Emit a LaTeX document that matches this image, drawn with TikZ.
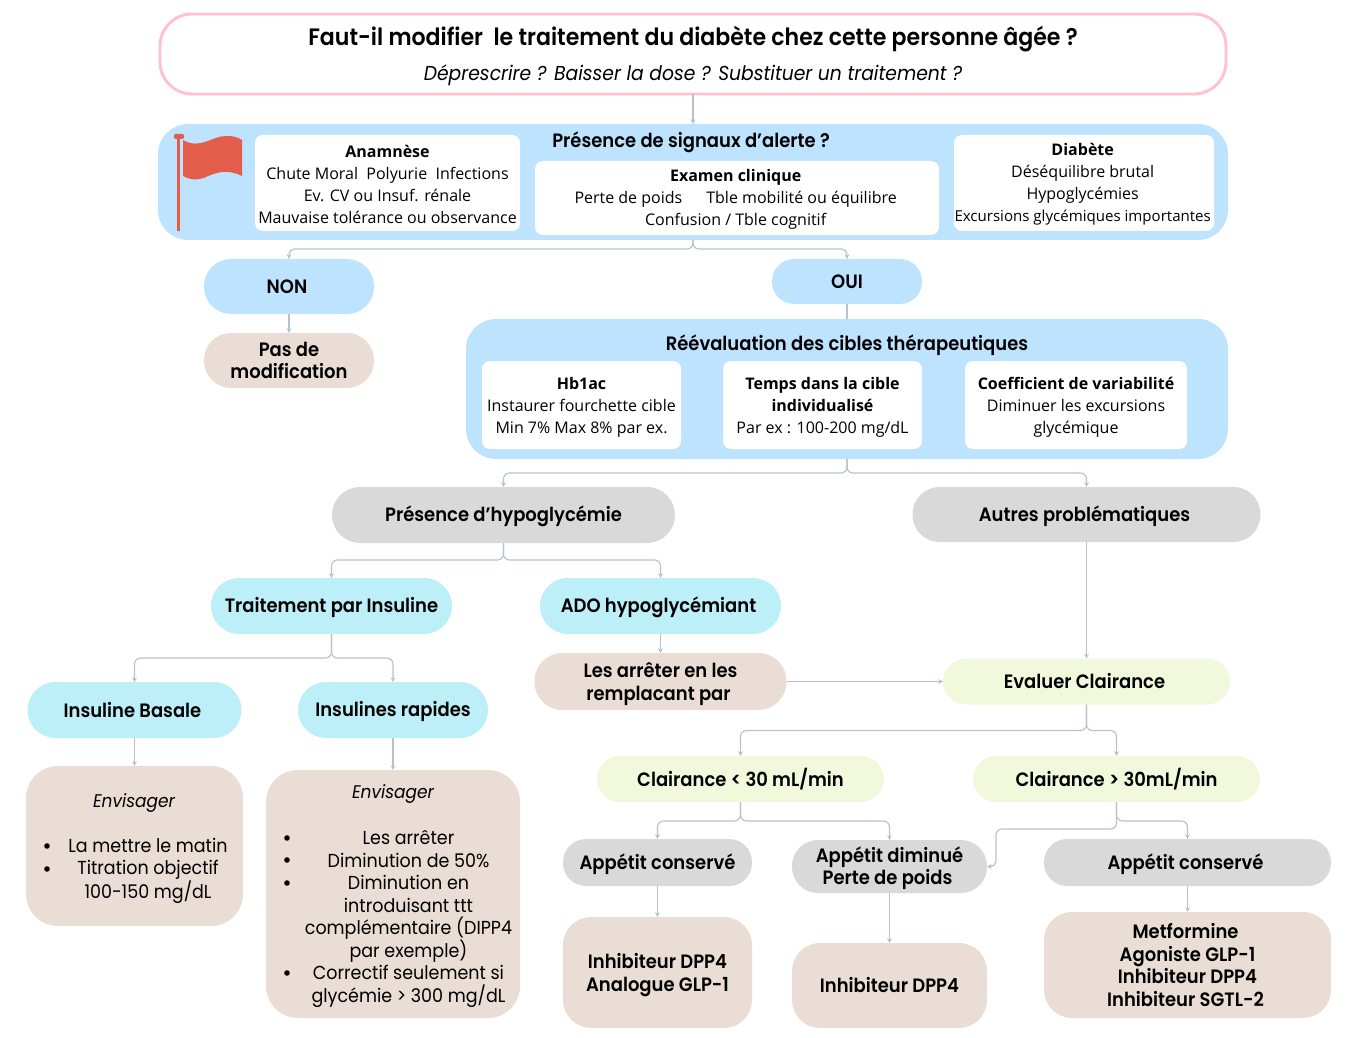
\documentclass[tikz,border=0pt]{standalone}
\usepackage{fontspec}
\setmainfont{Poppins}[BoldFont={Poppins SemiBold},ItalicFont={Poppins Italic},FakeStretch=0.93]
\newfontfamily\opensans{Open Sans}
\usetikzlibrary{arrows.meta}
\definecolor{alertblue}{HTML}{BEE3FE}
\definecolor{insulcyan}{HTML}{BCEFF7}
\definecolor{tanbox}{HTML}{E9DDD5}
\definecolor{clairgreen}{HTML}{F2F8DC}
\definecolor{greybox}{HTML}{D9D9D9}
\definecolor{titlepink}{HTML}{FFC2CC}
\definecolor{flagred}{HTML}{E35D4B}
\definecolor{linkgrey}{HTML}{B5C3CF}
\def\headstrut{\rule[-3pt]{0pt}{17.2pt}}
\def\nudge{\hspace*{3pt}}
\tikzset{
	dim/.style 2 args={minimum width=#1*0.75pt, minimum height=#2*0.75pt, inner sep=0pt, outer sep=0pt, align=center},
	rad/.style={rounded corners=#1*0.75pt},
	head/.style={font=\fontsize{14.5}{17}\selectfont\bfseries, execute at begin node=\headstrut, execute at end node=\headstrut},
	headtext/.style={align=center, inner sep=0pt, font=\fontsize{14.5}{17}\selectfont\bfseries},
	whitebox/.style={fill=white, rad=8},
	whitetext/.style={align=center, inner sep=0pt, font=\opensans\fontsize{12}{16.5}\selectfont},
	listtext/.style={align=center, font=\fontsize{14.1}{16.9}\selectfont},
	dot/.style={circle, fill=black, minimum size=4.2pt, inner sep=0pt},
	link/.style={draw=linkgrey, line width=0.85pt, rounded corners=4.5pt, -{Stealth[length=3.6pt,width=3.6pt]}},
	plainlink/.style={draw=linkgrey, line width=0.85pt}
}
\begin{document}
\begin{tikzpicture}[x=0.75pt,y=-0.75pt]
			\useasboundingbox (0,0) rectangle (1361,1038);
			%%%%% top question %%%%%
			\node[dim={1066}{80}, rad=32, draw=titlepink, line width=2.2pt, fill=white] (question) at (693,54) {};
			\node[font=\fontsize{17.8}{20}\selectfont\bfseries] (questiontitle) at (693,39) {Faut-il modifier\ \ le traitement du diabète chez cette personne âgée ?};
			\node[font=\fontsize{15.1}{18}\selectfont\itshape] (questionsub) at (693,75) {Déprescrire ? Baisser la dose ? Substituer un traitement ?};
			
			%%%%% alert signals %%%%%
			\node[dim={1070}{116}, rad=30, fill=alertblue] (signals) at (693,182) {};
			\node[head] (signalstitle) at (691,141) {Présence de signaux d’alerte ?};
			\node[dim={265}{96}, whitebox, label={[whitetext,yshift=-0.9pt]center:{{\bfseries Anamnèse}\\Chute Moral\ \ Polyurie\ \ Infections\\Ev. CV ou Insuf. rénale\\Mauvaise tolérance ou observance}}] (anamnese) at (387.5,183) {};
			\node[dim={404}{74}, whitebox, label={[whitetext,yshift=-1pt,xshift=-1pt]center:{{\bfseries Examen clinique}\\Perte de poids\hspace{1.5em}Tble mobilité ou équilibre\\Confusion / Tble cognitif}}] (examen) at (737,198) {};
			\node[dim={260}{96}, whitebox, label={[whitetext,yshift=-1.2pt,xshift=-1pt]center:{{\bfseries Diabète}\\Déséquilibre brutal\\Hypoglycémies\\{\fontsize{11.3}{16.5}\selectfont Excursions glycémiques importantes}}}] (diabete) at (1084,183) {};
			
			\fill[flagred] (177,137) rectangle (180,231);
			\fill[flagred, rounded corners=1pt] (174,134) rectangle (184,139);
			\fill[flagred] (183,140) .. controls (200,150) and (212,136) .. (226,136) .. controls (233,136) and (238,137) .. (242,140) -- (242,176)
				.. controls (230,170) and (220,171) .. (208,176) .. controls (200,180) and (192,181) .. (183,176) -- cycle;
			
			%%%%% non %%%%%
			\node[dim={170}{55}, rad=27, fill=alertblue, head] (non) at (289,286.5) {NON\nudge};
			\node[dim={170}{55}, rad=27, fill=tanbox, label={[headtext]center:{Pas de\\modification}}] (nomodif) at (289,360.5) {};
			
			%%%%% oui %%%%%
			\node[dim={150}{45}, rad=22, fill=alertblue, head] (oui) at (847,281.5) {OUI};
			\node[dim={762}{140}, rad=30, fill=alertblue] (targets) at (847,389) {};
			\node[head] (targetstitle) at (847,344) {Réévaluation des cibles thérapeutiques};
			\node[dim={199}{88}, whitebox, label={[whitetext,yshift=-1.5pt]center:{{\bfseries Hb1ac}\\Instaurer fourchette cible\\Min 7\% Max 8\% par ex.}}] (hba) at (581.5,405) {};
			\node[dim={199}{88}, whitebox, label={[whitetext,yshift=-1.5pt]center:{{\bfseries Temps dans la cible}\\{\bfseries individualisé}\\Par ex : 100-200 mg/dL}}] (tir) at (822.5,405) {};
			\node[dim={222}{88}, whitebox, label={[whitetext,yshift=-1.5pt]center:{{\bfseries Coefficient de variabilité}\\Diminuer les excursions\\glycémique}}] (cv) at (1076,405) {};
			
			%%%%% hypoglycemia side %%%%%
			\node[dim={343}{56}, rad=28, fill=greybox, head] (hypo) at (503.5,515) {Présence d’hypoglycémie};
			\node[dim={348}{55}, rad=27, fill=greybox, head] (others) at (1086.5,514.5) {Autres problématiques\nudge};
			\node[dim={241}{56}, rad=28, fill=insulcyan, head] (insulin) at (331.5,606) {Traitement par Insuline};
			\node[dim={241}{56}, rad=28, fill=insulcyan, head] (ado) at (660.5,606) {ADO hypoglycémiant\nudge};
			\node[dim={214}{56}, rad=28, fill=insulcyan, head] (basal) at (134.5,710) {Insuline Basale\nudge};
			\node[dim={190}{56}, rad=28, fill=insulcyan, head] (rapid) at (393,710) {Insulines rapides};
			\node[dim={252}{57}, rad=28, fill=tanbox, label={[headtext,yshift=-2pt]center:{Les arrêter en les\\remplacant par\nudge}}] (stopado) at (660.5,681.5) {};
			
			\node[dim={217}{160}, rad=32, fill=tanbox] (basalbox) at (134.5,846) {};
			\node[listtext, font=\fontsize{13.7}{17}\selectfont\itshape] (basalenv) at (134,803) {Envisager};
			\node[listtext] (basallist) at (148,871) {La mettre le matin\\Titration objectif\\100-150 mg/dL};
			\node[dot] (basaldota) at (47,846) {};
			\node[dot] (basaldotb) at (47,869) {};
			
			\node[dim={254}{248}, rad=32, fill=tanbox] (rapidbox) at (393,894) {};
			\node[listtext, font=\fontsize{13.7}{17}\selectfont\itshape] (rapidenv) at (393,794) {Envisager};
			\node[listtext] (rapidlist) at (408.5,919) {Les arrêter\\Diminution de 50\%\\Diminution en\\introduisant ttt\\complémentaire (DIPP4\\par exemple)\\Correctif seulement si\\glycémie > 300 mg/dL};
			\node[dot] (rapiddota) at (287,838) {};
			\node[dot] (rapiddotb) at (287,860) {};
			\node[dot] (rapiddotc) at (287,883) {};
			\node[dot] (rapiddotd) at (287,973) {};
			
			%%%%% clearance side %%%%%
			\node[dim={287}{46}, rad=23, fill=clairgreen, head] (clearance) at (1086.5,681.5) {Evaluer Clairance\nudge};
			\node[dim={287}{46}, rad=23, fill=clairgreen, head] (clearlow) at (740.5,779) {Clairance < 30 mL/min};
			\node[dim={287}{46}, rad=23, fill=clairgreen, head] (clearhigh) at (1116.5,779) {Clairance > 30mL/min};
			\node[dim={189}{47}, rad=23, fill=greybox, head] (appleft) at (657.5,862.5) {Appétit conservé};
			\node[dim={195}{53}, rad=26, fill=greybox, label={[headtext,yshift=-1.3pt]center:{Appétit diminué\\Perte de poids\nudge}}] (appdown) at (889.5,866.5) {};
			\node[dim={287}{47}, rad=23, fill=greybox, head] (appright) at (1187.5,862.5) {Appétit conservé\nudge};
			\node[dim={189}{111}, rad=28, fill=tanbox, label={[headtext,yshift=-1.8pt]center:{Inhibiteur DPP4\\Analogue GLP-1}}] (drugleft) at (657.5,972.5) {};
			\node[dim={195}{85}, rad=28, fill=tanbox, head] (drugmid) at (889.5,985.5) {Inhibiteur DPP4};
			\node[dim={287}{106}, rad=28, fill=tanbox, label={[headtext]center:{Metformine\nudge\\Agoniste GLP-1\nudge\\Inhibiteur DPP4\nudge\\Inhibiteur SGTL-2\nudge}}] (drugright) at (1187.5,965) {};
			\coordinate (appbend) at (996,866.5);
			
			%%%%% connectors %%%%%
			\draw[link] (question.south) -- (signals.north);
			\draw[link] (signals.south) -- ++(0,9) -| (non.north);
			\draw[link] (signals.south) -- ++(0,9) -| (oui.north);
			\draw[link] (non.south) -- (nomodif.north);
			\draw[plainlink] (oui.south) -- (targets.north);
			\draw[link] (targets.south) -- ++(0,14) -| (hypo.north);
			\draw[link] (targets.south) -- ++(0,14) -| (others.north);
			\draw[link] (hypo.south) -- ++(0,17) -| (insulin.north);
			\draw[link] (hypo.south) -- ++(0,17) -| (ado.north);
			\draw[link] (insulin.south) -- ++(0,24) -| (basal.north);
			\draw[link] (insulin.south) -- ++(0,24) -| (rapid.north);
			\draw[link] (basal.south) -- (basalbox.north);
			\draw[link] (rapid.south) -- (rapidbox.north);
			\draw[link] (ado.south) -- (stopado.north);
			\draw[link] (stopado.east) -- (clearance.west);
			\draw[link] (others.south) -- (clearance.north);
			\draw[link] (clearance.south) -- ++(0,26) -| (clearlow.north);
			\draw[link] (clearance.south) -- ++(0,26) -| (clearhigh.north);
			\draw[link] (clearlow.south) -- ++(0,19) -| (appleft.north);
			\draw[link] (clearlow.south) -- ++(0,19) -| (appdown.north);
			\draw[link] (clearhigh.south) -- ++(0,19) -| (appright.north);
			\draw[link] (clearhigh.south) -- ++(0,27) -| (appbend) -- (appdown.east);
			\draw[link] (appleft.south) -- (drugleft.north);
			\draw[link] (appdown.south) -- (drugmid.north);
			\draw[link] (appright.south) -- (drugright.north);
		\end{tikzpicture}
\end{document}
